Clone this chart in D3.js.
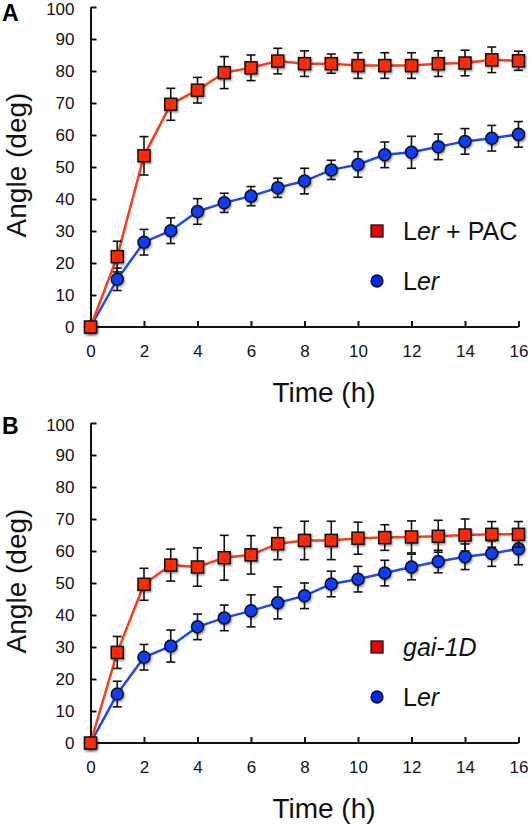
<!DOCTYPE html>
<html>
<head>
<meta charset="utf-8">
<script src="https://cdn.jsdelivr.net/npm/d3@7"></script>
<style>
  html, body { margin: 0; padding: 0; background: #fff; }
  svg { display: block; font-family: "Liberation Sans", Arial, Helvetica, sans-serif; }
</style>
</head>
<body>
<svg id="chart" width="531" height="826"></svg>
<script>
// ---- data ----
const hours = [0,1,2,3,4,5,6,7,8,9,10,11,12,13,14,15,16];
const xTicks = [0,2,4,6,8,10,12,14,16];
const yTicks = [0,10,20,30,40,50,60,70,80,90,100];

// Panel A
const lerPac    = [0,22,53.5,69.6,74,79.5,81,83.1,82.3,82.3,81.7,81.7,81.7,82.3,82.5,83.5,83.2];
const lerPacErr = [0,4.8,6,5,4,5,4,4,4,3,4,4,4,4,4,4,3];
const lerA      = [0,14.9,26.5,30.1,36.1,38.8,40.9,43.5,45.6,49.1,50.8,53.8,54.6,56.3,58,59,60.2];
const lerAErr   = [0,3.5,4,4,4,3,3,3,4,3,4,4,5,4,4,4,4];

// Panel B
const gai1D     = [0,28.3,49.6,55.6,55,57.9,58.8,62.3,63.3,63.3,64,64.2,64.4,64.6,65,65.2,65.2];
const gai1DErr  = [0,5,5,5,6,7,6,5,6,6,5,4,5,5,5,4,4];
const lerB      = [0,15.3,26.8,30.3,36.3,39.1,41.3,43.8,46,49.7,51.2,53.1,55,56.7,58.2,59.2,60.7];
const lerBErr   = [0,4,4,5,4,4,5,5,4,4,4,4,4,3.5,4,4,5];

const RED = "#ff2a00", RED_LINE = "#ff3a14", BLUE = "#0a3cff", BLUE_LINE = "#1f48f5";

const svg = d3.select("#chart");
const defs = svg.append("defs");
const f = defs.append("filter").attr("id","shadow").attr("x","-50%").attr("y","-50%").attr("width","200%").attr("height","200%");
f.append("feDropShadow").attr("dx",1).attr("dy",1.5).attr("stdDeviation",1.3)
 .attr("flood-color","#000").attr("flood-opacity",0.45);

const x = d3.scaleLinear().domain([0,16]).range([90.5,518.5]);

function panel(cfg) {
  const y = d3.scaleLinear().domain([0,100]).range([cfg.y0, cfg.y0 - 320]);
  const g = svg.append("g");

  // axes (ticks inside)
  const yAxis = d3.axisLeft(y).tickValues(yTicks).tickSizeInner(-6).tickSizeOuter(0).tickPadding(16);
  const ga = g.append("g").attr("transform", `translate(${x(0)},0)`).call(yAxis);
  const xAxis = d3.axisBottom(x).tickValues(xTicks).tickSizeInner(-6).tickSizeOuter(0).tickPadding(18);
  const gb = g.append("g").attr("transform", `translate(0,${y(0)})`).call(xAxis);
  [ga, gb].forEach(a => {
    a.select(".domain").attr("stroke","#111").attr("stroke-width",2);
    a.selectAll(".tick line").attr("stroke","#111").attr("stroke-width",2);
    a.selectAll(".tick text").attr("font-size",17).attr("fill","#111")
      .attr("font-family",'"Liberation Sans", Arial, sans-serif');
  });
  gb.select(".domain").attr("d", `M${x(0)},0H${x(16)}`);
  ga.selectAll(".tick text").attr("dy", d => d === 100 ? "0.42em" : "0.32em");

  // titles
  g.append("text").attr("x",324).attr("y",cfg.y0 + 74.5).attr("text-anchor","middle")
    .attr("font-size",28).attr("fill","#111").text("Time (h)");
  g.append("text").attr("transform",`translate(26,${cfg.y0 - 162}) rotate(-90)`)
    .attr("text-anchor","middle").attr("font-size",28).attr("fill","#111").text("Angle (deg)");
  g.append("text").attr("x",2).attr("y",cfg.letterY).attr("font-size",23).attr("font-weight","bold")
    .attr("fill","#000").text(cfg.letter);

  const line = d3.line().x((d,i)=>x(hours[i])).y(d=>y(d));

  function series(vals, errs, color, lineColor, shape) {
    const s = g.append("g");
    s.append("path").datum(vals).attr("d", line).attr("fill","none")
      .attr("stroke", lineColor).attr("stroke-width", 2.5);
    const eb = s.append("g").attr("stroke","#111").attr("stroke-width",1.6);
    vals.forEach((v,i) => {
      if (!errs[i]) return;
      const cx = x(hours[i]);
      eb.append("line").attr("x1",cx).attr("x2",cx).attr("y1",y(v+errs[i])).attr("y2",y(v-errs[i]));
      eb.append("line").attr("x1",cx-4.5).attr("x2",cx+4.5).attr("y1",y(v+errs[i])).attr("y2",y(v+errs[i]));
      eb.append("line").attr("x1",cx-4.5).attr("x2",cx+4.5).attr("y1",y(v-errs[i])).attr("y2",y(v-errs[i]));
    });
    const m = s.append("g").attr("filter","url(#shadow)");
    vals.forEach((v,i) => {
      const cx = x(hours[i]), cy = y(v);
      if (shape === "square") {
        m.append("rect").attr("x",cx-6).attr("y",cy-6).attr("width",12).attr("height",12)
          .attr("fill",color).attr("stroke","#111").attr("stroke-width",1.5);
      } else {
        m.append("circle").attr("cx",cx).attr("cy",cy).attr("r",6)
          .attr("fill",color).attr("stroke","#111").attr("stroke-width",1.5);
      }
    });
  }
  series(cfg.blue, cfg.blueErr, BLUE, BLUE_LINE, "circle");
  series(cfg.red, cfg.redErr, RED, RED_LINE, "square");

  // legend
  const lg = g.append("g");
  const ly1 = cfg.y0 - 96, ly2 = cfg.y0 - 46;
  lg.append("rect").attr("x",371).attr("y",ly1-6).attr("width",12).attr("height",12)
    .attr("fill","#f00000").attr("stroke","#111").attr("stroke-width",1.3);
  lg.append("circle").attr("cx",377).attr("cy",ly2).attr("r",6)
    .attr("fill","#0022ff").attr("stroke","#111").attr("stroke-width",1.3);
  const t1 = lg.append("text").attr("x",403).attr("y",ly1+9).attr("font-size",25).attr("fill","#111");
  cfg.label1(t1);
  const t2 = lg.append("text").attr("x",403).attr("y",ly2+9).attr("font-size",25).attr("fill","#111");
  t2.append("tspan").text("L");
  t2.append("tspan").attr("font-style","italic").text("er");
}

panel({
  y0: 327, letter: "A", letterY: 21,
  red: lerPac, redErr: lerPacErr, blue: lerA, blueErr: lerAErr,
  label1: t => { t.append("tspan").text("L"); t.append("tspan").attr("font-style","italic").text("er"); t.append("tspan").text(" + PAC"); }
});
panel({
  y0: 743, letter: "B", letterY: 434,
  red: gai1D, redErr: gai1DErr, blue: lerB, blueErr: lerBErr,
  label1: t => { t.append("tspan").attr("font-style","italic").text("gai-1D"); }
});
</script>
</body>
</html>
